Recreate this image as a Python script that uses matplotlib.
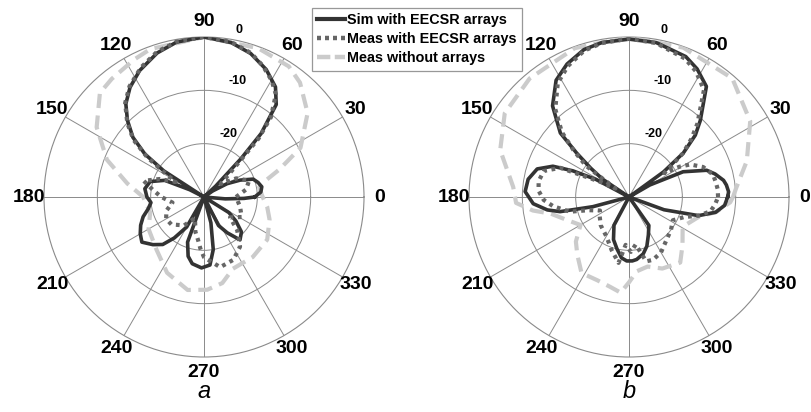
import numpy as np
import matplotlib
matplotlib.use("Agg")
import matplotlib.pyplot as plt
from matplotlib.lines import Line2D

plt.rcParams['font.family'] = ['Liberation Sans', 'DejaVu Sans']

# ---------------- data (angle in degrees, level in dB) ----------------
# panel a
ang_sim_a = [0, 5, 10, 15, 20, 25, 30, 35, 40, 43, 46, 48, 52, 57, 64, 72, 80, 90, 100, 108,
             117, 124, 130, 135, 140, 144, 147, 150, 153, 157, 164, 172, 180, 186, 192, 198,
             204, 210, 216, 223, 229, 234, 240, 245, 250, 255, 260, 268, 275, 280, 285, 290,
             297, 303, 310, 317, 323, 328, 335, 350, 355, 358, 360]
db_sim_a = [-20.5, -19.3, -19.0, -19.5, -20.2, -22.5, -25.0, -28.0, -30.0, -27.0, -20.0, -14.0,
            -8.0, -5.4, -3.4, -1.7, -0.6, 0.0, -0.5, -1.6, -3.4, -5.2, -7.2, -9.7, -12.6, -16.3,
            -21.0, -30.0, -27.0, -22.0, -19.5, -18.8, -19.3, -20.0, -19.3, -18.0, -17.0, -16.2,
            -15.6, -16.9, -18.2, -20.5, -23.5, -30.0, -21.0, -18.5, -17.3, -16.7, -17.2, -20.0,
            -25.0, -30.0, -24.0, -22.0, -19.5, -20.4, -22.5, -24.5, -30.0, -30.0, -26.0, -22.5,
            -20.5]

ang_mw_a = [0, 10, 20, 30, 38, 44, 47, 50, 55, 60, 66, 72, 80, 90, 100, 108, 116, 124, 130,
            136, 141, 145, 148, 152, 158, 165, 172, 180, 190, 200, 210, 220, 235, 247, 256,
            262, 266, 270, 283, 295, 306, 315, 322, 332, 345, 360]
db_mw_a = [-24.0, -22.0, -21.0, -23.0, -26.0, -22.0, -15.0, -10.5, -6.5, -4.7, -3.0, -1.6,
           -0.5, 0.0, -0.4, -1.4, -3.0, -5.0, -7.0, -10.0, -13.0, -17.0, -21.0, -24.0, -21.0,
           -18.3, -20.3, -22.0, -24.0, -22.5, -21.8, -22.0, -23.5, -25.7, -23.3, -21.9, -20.3,
           -18.7, -16.5, -17.0, -18.5, -21.2, -23.8, -22.0, -23.0, -24.0]

ang_mo_a = [0, 10, 15, 20, 27, 39, 50, 57, 70, 90, 110, 117, 128, 135, 147, 159, 170, 180,
            196, 210, 228, 244, 260, 272, 282, 292, 309, 326, 341, 351, 360]
db_mo_a = [-19.0, -19.5, -18.0, -15.0, -9.7, -5.0, -2.0, -0.8, -0.3, 0.0, -0.5, -1.1, -1.9,
           -2.4, -6.0, -10.5, -15.4, -18.6, -19.5, -18.0, -16.7, -14.2, -12.3, -12.6, -13.5,
           -15.5, -15.5, -15.7, -17.0, -18.0, -19.0]

# panel b
ang_sim_b = [0, 3, 7, 10, 15, 19, 25, 30, 33, 36, 39, 43, 47, 55, 62, 68, 80, 90, 100, 107,
             115, 122, 130, 137, 140, 143, 146, 149, 152, 155, 158, 163, 170, 177, 184, 189,
             192, 195, 199, 235, 242, 250, 257, 263, 268, 273, 277, 284, 290, 297, 305, 312,
             335, 340, 345, 350, 355, 360]
db_sim_b = [-11.5, -11.3, -11.6, -12.0, -13.3, -14.6, -18.8, -25.5, -30.0, -22.0, -16.9, -13.0,
            -10.4, -4.7, -2.8, -1.6, -0.6, -0.4, -0.6, -1.1, -2.5, -4.2, -7.7, -12.4, -17.2,
            -21.0, -24.0, -30.0, -23.0, -18.4, -14.6, -12.0, -10.8, -10.5, -12.0, -14.5, -16.8,
            -23.0, -30.0, -30.0, -24.0, -21.5, -20.0, -18.5, -18.0, -18.0, -18.2, -19.0, -20.2,
            -22.0, -23.5, -30.0, -30.0, -23.0, -16.5, -13.5, -12.0, -11.5]

ang_mw_b = [0, 5, 10, 15, 22, 28, 31, 34, 36, 39, 43, 47, 55, 62, 68, 80, 90, 100, 107, 115,
            122, 130, 136, 140, 144, 148, 152, 157, 163, 170, 176, 182, 187, 194, 198, 205,
            212, 225, 240, 252, 261, 266, 272, 278, 285, 291, 300, 311, 322, 332, 340, 345,
            350, 355, 360]
db_mw_b = [-13.3, -13.3, -13.5, -13.7, -15.0, -17.0, -19.0, -22.0, -20.5, -17.0, -14.0, -11.2,
           -5.5, -3.3, -2.0, -0.7, -0.3, -0.7, -1.3, -2.9, -4.8, -8.5, -12.5, -16.5, -20.0,
           -27.0, -24.0, -16.0, -13.3, -12.8, -13.0, -14.0, -15.7, -18.6, -22.0, -24.0, -23.5,
           -22.5, -21.5, -19.5, -17.5, -21.0, -19.7, -21.0, -17.5, -17.4, -18.0, -19.3, -20.0,
           -20.7, -19.0, -16.5, -14.5, -13.8, -13.3]

ang_mo_b = [0, 5, 17, 32, 49, 70, 90, 110, 130, 146, 160, 175, 183, 188, 192, 200, 210, 220,
            228, 238, 249, 258, 265, 270, 276, 285, 295, 308, 318, 331, 345, 350, 357, 360]
db_mo_b = [-10.5, -9.8, -6.9, -3.2, -0.5, -0.2, 0.0, -0.3, -1.0, -1.9, -4.3, -8.2, -8.8,
           -11.8, -15.0, -17.5, -19.5, -17.0, -15.5, -13.2, -13.3, -12.8, -12.0, -14.0, -16.0,
           -16.5, -15.2, -14.4, -16.5, -18.5, -16.2, -13.5, -11.0, -10.5]

series_labels = ['Sim with EECSR arrays', 'Meas with EECSR arrays', 'Meas without arrays']
angle_ticks = list(range(0, 360, 30))
ring_levels = [-20, -10, 0]
panel_names = ['a', 'b']

# ---------------- style ----------------
c_sim = '#333333'
c_mw = '#666666'
c_mo = '#cbcbcb'
grid_c = '#8a8a8a'

W, H = 811, 412
fig = plt.figure(figsize=(W / 100, H / 100), dpi=100)

R = 160
centers = [(204, 197), (629, 197)]
datasets = [
    ((ang_sim_a, db_sim_a), (ang_mw_a, db_mw_a), (ang_mo_a, db_mo_a)),
    ((ang_sim_b, db_sim_b), (ang_mw_b, db_mw_b), (ang_mo_b, db_mo_b)),
]

for (cx, cy), data, name in zip(centers, datasets, panel_names):
    ax = fig.add_axes([(cx - R) / W, (H - cy - R) / H, 2 * R / W, 2 * R / H],
                      projection='polar')
    ax.set_ylim(-30, 0)
    (a_s, d_s), (a_w, d_w), (a_o, d_o) = data
    ax.plot(np.deg2rad(a_o), d_o, color=c_mo, lw=3.0, ls=(0, (3.4, 1.8)), zorder=3)
    ax.plot(np.deg2rad(a_s), d_s, color=c_sim, lw=2.6, ls='-', zorder=4)
    ax.plot(np.deg2rad(a_w), d_w, color=c_mw, lw=3.0, ls=(0, (0.9, 1.1)), zorder=5)

    ax.set_thetagrids(angle_ticks, labels=[''] * len(angle_ticks))
    ax.set_rgrids([-20, -10], labels=['', ''])
    ax.grid(True, color=grid_c, lw=0.7)
    ax.spines['polar'].set_color(grid_c)
    ax.spines['polar'].set_linewidth(0.8)
    ax.tick_params(length=0)

    for t in angle_ticks:
        ax.text(np.deg2rad(t), 2.85, str(t), ha='center', va='center',
                fontsize=14, fontweight='bold', clip_on=False)
    for lvl, th, rr in zip(ring_levels, [68.5, 74, 78], [-17.3, -7.4, 2.0]):
        ax.text(np.deg2rad(th), rr, str(lvl), ha='center', va='center',
                fontsize=9, fontweight='bold', clip_on=False, zorder=6)

    fig.text(cx / W, 1 - 392 / H, name, ha='center', va='center',
             fontsize=17, style='italic')

handles = [Line2D([], [], color=c_sim, lw=3.0, ls='-'),
           Line2D([], [], color=c_mw, lw=3.2, ls=(0, (0.9, 0.9))),
           Line2D([], [], color=c_mo, lw=3.2, ls=(0, (3.0, 1.0)))]
leg = fig.legend(handles, series_labels, loc='upper left',
                 bbox_to_anchor=(312 / W, 1 - 8 / H),
                 prop={'weight': 'bold', 'size': 10.4},
                 frameon=True, fancybox=False, handlelength=1.9,
                 handletextpad=0.15, labelspacing=0.33, borderpad=0.38,
                 borderaxespad=0)
leg.get_frame().set_edgecolor('#7f7f7f')
leg.get_frame().set_linewidth(0.9)

fig.savefig('out.png', dpi=100, facecolor='white')
